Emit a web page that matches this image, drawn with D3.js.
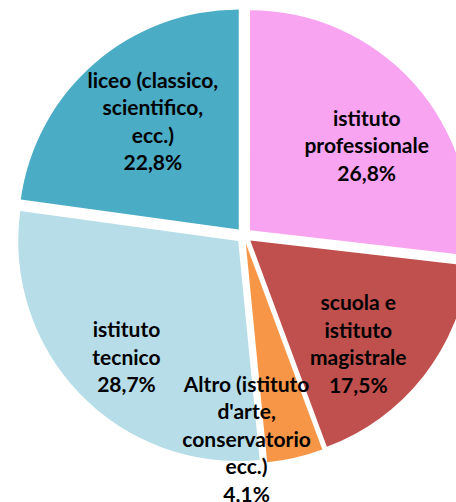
<!DOCTYPE html>
<meta charset="utf-8">
<style>
body { margin: 0; background: #fff; }
.label { font-family: Lato, "Open Sans", sans-serif; font-weight: bold; fill: #000; }
</style>
<body>
<div class="chart"></div>
</body>
<script src="https://cdn.jsdelivr.net/npm/d3@7"></script>
<script>

// data, in pie order (clockwise from 12 o'clock)
var categories = [
  "istituto professionale",
  "scuola e istituto magistrale",
  "Altro (istituto d'arte, conservatorio ecc.)",
  "istituto tecnico",
  "liceo (classico, scientifico, ecc.)"
];
var values = [26.8, 17.5, 4.1, 28.7, 22.8];
var labelLines = [
  ["istituto", "professionale"],
  ["scuola e", "istituto", "magistrale"],
  ["Altro (istituto", "d'arte,", "conservatorio", "ecc.)"],
  ["istituto", "tecnico"],
  ["liceo (classico,", "scientifico,", "ecc.)"]
];
var colors = ["#f8a4f1", "#c0504d", "#f79646", "#b7dee8", "#4bacc6"];

var w = 456,
    h = 502,
    cx = 244,
    cy = 235.5,
    r = 220,
    explode = 8,
    labelR = 155,
    lineH = 27.5;

// hand nudges for label blocks (like excel's best fit)
var nudge = [[1, 19], [-14, 8], [-34, 45], [0, 9], [16, 9]];

var fmt = function(v) { return v.toFixed(1).replace(".", ",") + "%"; };

var svg = d3.select(".chart").append("svg")
    .attr("width", w)
    .attr("height", h);

var pie = d3.pie().sort(null).value(function(d) { return d; });
var arc = d3.arc().innerRadius(0).outerRadius(r);
var arcs = pie(values);

function dir(d) {
  var a = (d.startAngle + d.endAngle) / 2;
  return [Math.sin(a), -Math.cos(a)];
}

var g = svg.append("g").attr("transform", "translate(" + cx + "," + cy + ")");

g.selectAll("path.slice")
    .data(arcs)
  .enter().append("path")
    .attr("class", "slice")
    .attr("d", arc)
    .attr("fill", function(d, i) { return colors[i]; })
    .attr("transform", function(d) {
      var v = dir(d);
      return "translate(" + v[0] * explode + "," + v[1] * explode + ")";
    });

var labels = g.selectAll("text.label")
    .data(arcs)
  .enter().append("text")
    .attr("class", "label")
    .attr("font-size", 21)
    .attr("text-anchor", "middle")
    .attr("transform", function(d, i) {
      var v = dir(d), k = explode + labelR;
      return "translate(" + (v[0] * k + nudge[i][0]) + "," + (v[1] * k + nudge[i][1]) + ")";
    });

labels.each(function(d, i) {
  var lines = labelLines[i].concat([fmt(values[i])]);
  var t = d3.select(this);
  var y0 = -(lines.length - 1) / 2 * lineH;
  lines.forEach(function(s, j) {
    t.append("tspan")
      .attr("x", 0)
      .attr("y", y0 + j * lineH)
      .attr("dy", "0.35em")
      .text(s);
  });
});

</script>
